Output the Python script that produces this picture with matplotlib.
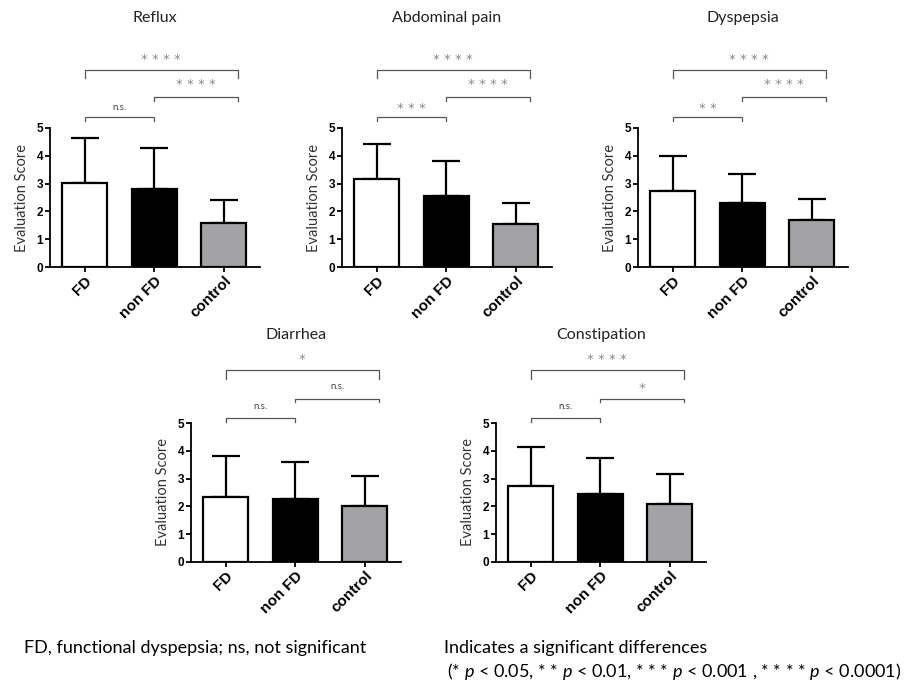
import matplotlib
matplotlib.use("Agg")
import matplotlib.pyplot as plt

plt.rcParams["mathtext.fontset"] = "custom"
plt.rcParams["mathtext.it"] = "Lato:italic"
plt.rcParams["mathtext.rm"] = "Lato"

W, H = 915, 683

groups = ["FD", "non FD", "control"]
titles = ["Reflux", "Abdominal pain", "Dyspepsia", "Diarrhea", "Constipation"]

reflux_mean = [3.02, 2.80, 1.60]
reflux_sd = [1.61, 1.48, 0.82]
abdominal_mean = [3.15, 2.55, 1.55]
abdominal_sd = [1.27, 1.27, 0.77]
dyspepsia_mean = [2.75, 2.32, 1.70]
dyspepsia_sd = [1.23, 1.03, 0.73]
diarrhea_mean = [2.35, 2.25, 2.00]
diarrhea_sd = [1.48, 1.35, 1.08]
constipation_mean = [2.75, 2.45, 2.10]
constipation_sd = [1.38, 1.28, 1.08]

# significance: (FD vs non FD, non FD vs control, FD vs control)
reflux_sig = ["n.s.", "* * * *", "* * * *"]
abdominal_sig = ["* * *", "* * * *", "* * * *"]
dyspepsia_sig = ["* *", "* * * *", "* * * *"]
diarrhea_sig = ["n.s.", "n.s.", "*"]
constipation_sig = ["n.s.", "*", "* * * *"]

means = [reflux_mean, abdominal_mean, dyspepsia_mean, diarrhea_mean, constipation_mean]
sds = [reflux_sd, abdominal_sd, dyspepsia_sd, diarrhea_sd, constipation_sd]
sigs = [reflux_sig, abdominal_sig, dyspepsia_sig, diarrhea_sig, constipation_sig]

# layout in pixels: left, top, bottom
panel_px = [(50, 128, 267), (342, 128, 267), (638, 128, 267),
            (191, 423, 562), (496, 423, 562)]
row = [0, 0, 0, 1, 1]
AX_W = 210

# bracket heights (data units) per row: lower, middle, top; text heights
bracket_y = [[5.4, 6.1, 7.1], [5.18, 5.86, 6.9]]
text_y = [[5.75, 6.6, 7.5], [5.58, 6.3, 7.34]]

bar_colors = ["white", "black", "#a3a3a6"]
regular = ["Lato", "DejaVu Sans"]
boldfont = ["Liberation Sans", "DejaVu Sans"]

fig = plt.figure(figsize=(W / 100, H / 100), dpi=100)

for i in range(5):
    l, t, b = panel_px[i]
    ax = fig.add_axes([l / W, 1 - b / H, AX_W / W, (b - t) / H])
    x = list(range(len(groups)))
    ax.bar(x, means[i], width=0.65, color=bar_colors, edgecolor="black",
           linewidth=1.6, zorder=3)
    ax.errorbar(x, means[i], yerr=[[0, 0, 0], sds[i]], fmt="none",
                ecolor="black", elinewidth=1.6, capsize=10, capthick=1.6,
                zorder=2)
    ax.set_ylim(0, 5)
    ax.set_xlim(-0.5, 2.52)
    ax.set_yticks([0, 1, 2, 3, 4, 5])
    ax.set_yticklabels([str(v) for v in range(6)], fontfamily=boldfont,
                       fontweight="bold", fontsize=8.5)
    ax.set_xticks(x)
    ax.set_xticklabels(groups, rotation=45, ha="right", rotation_mode="anchor",
                       fontfamily=boldfont, fontweight="bold", fontsize=11)
    for s in ["top", "right"]:
        ax.spines[s].set_visible(False)
    for s in ["left", "bottom"]:
        ax.spines[s].set_linewidth(1.3)
    ax.tick_params(axis="both", width=1.3, length=3.5, pad=1.5)
    ax.set_ylabel("Evaluation Score", fontfamily=regular, fontsize=10.5,
                  color="#333333", labelpad=5)

    r = row[i]
    by = bracket_y[r]
    ty = text_y[r]
    pairs = [(0, 1.0), (1.0, 2.2), (0, 2.2)]
    drops = [0.15, 0.12, 0.3]
    for k, (x0, x1) in enumerate(pairs):
        y = by[k]
        d = drops[k]
        ax.plot([x0, x0, x1, x1], [y - d, y, y, y - d], color="#555555",
                lw=0.9, clip_on=False)
        lab = sigs[i][k]
        if lab == "n.s.":
            ax.text((x0 + x1) / 2, ty[k], lab, ha="center", va="center",
                    fontsize=7, color="#444444", fontfamily=regular)
        else:
            ax.text((x0 + x1) / 2, ty[k] - 0.05, lab, ha="center", va="center",
                    fontsize=9.5, color="#888888", fontfamily="DejaVu Sans")

    title_y = 18 if r == 0 else 335
    fig.text((l + AX_W / 2) / W, 1 - title_y / H, titles[i], ha="center",
             va="center", fontsize=11.5, fontfamily=regular, color="#222222")

fig.text(24 / W, 1 - 648 / H, "FD, functional dyspepsia; ns, not significant",
         ha="left", va="center", fontsize=13, fontfamily=regular)
fig.text(444 / W, 1 - 648 / H, "Indicates a significant differences",
         ha="left", va="center", fontsize=13, fontfamily=regular)
fig.text(447 / W, 1 - 671 / H,
         "(* $p$ < 0.05, * * $p$ < 0.01, * * * $p$ < 0.001 , * * * * $p$ < 0.0001)",
         ha="left", va="center", fontsize=13, fontfamily=regular)

fig.savefig("out.png", dpi=100)
